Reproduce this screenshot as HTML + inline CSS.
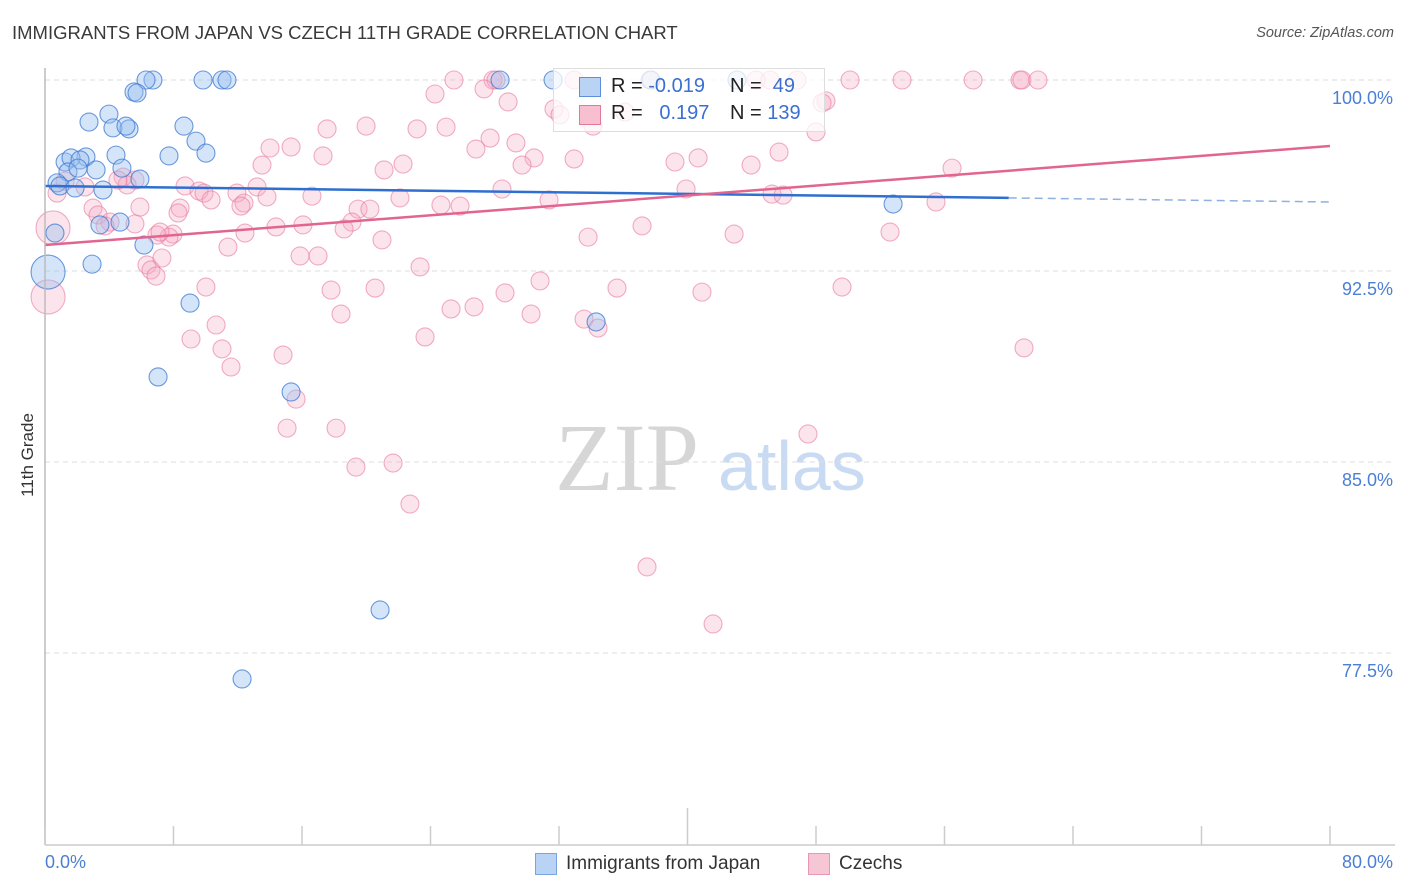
<!DOCTYPE html>
<html><head><meta charset="utf-8"><style>
body{margin:0;background:#fff;font-family:"Liberation Sans",sans-serif;}
#wrap{position:relative;width:1406px;height:892px;overflow:hidden;}
.t{position:absolute;white-space:nowrap;}
</style></head><body>
<div id="wrap">
<div class="t" style="left:12px;top:22px;font-size:18.5px;color:#3a3a3a;">IMMIGRANTS FROM JAPAN VS CZECH 11TH GRADE CORRELATION CHART</div>
<div class="t" style="right:12px;top:25px;font-size:14.5px;color:#555;font-style:italic;">Source: ZipAtlas.com</div>
<div class="t" style="left:28px;top:455px;font-size:17px;color:#333;transform:translate(-50%,-50%) rotate(-90deg);">11th Grade</div>
<svg id="svg" width="1406" height="892" style="position:absolute;left:0;top:0">
<text x="555" y="490" font-family="Liberation Serif,serif" font-size="96" fill="#d6d6d6">ZIP</text>
<text x="718" y="490" font-family="Liberation Sans,sans-serif" font-size="70" fill="#c9dbf3">atlas</text>
<g id="grid"></g><g id="pts"></g><g id="lines"></g><g id="axes"></g>
</svg>
<div style="position:absolute;left:553px;top:68px;width:270px;height:62px;border:1px solid #ddd;background:rgba(255,255,255,0.75);font-size:20px;color:#222;">
<div style="position:absolute;left:25px;top:8px;width:20px;height:18px;background:#b9d3f5;border:1px solid #5b8fdc;"></div>
<div class="t" style="left:57px;top:6px;">R = <span style="color:#3b6fd0">-0.019</span></div>
<div class="t" style="left:176px;top:6px;">N = &nbsp;<span style="color:#3b6fd0">49</span></div>
<div style="position:absolute;left:25px;top:36px;width:20px;height:18px;background:#f7bfd0;border:1px solid #e0799c;"></div>
<div class="t" style="left:57px;top:33px;">R = &nbsp;&nbsp;<span style="color:#3b6fd0">0.197</span></div>
<div class="t" style="left:176px;top:33px;">N = <span style="color:#3b6fd0">139</span></div>
</div>
<div class="t" style="left:45px;top:852px;font-size:18px;color:#4a7fd4;">0.0%</div>
<div class="t" style="right:13px;top:852px;font-size:18px;color:#4a7fd4;">80.0%</div>
<div style="position:absolute;left:535px;top:853px;width:20px;height:20px;background:#b9d3f5;border:1px solid #7aa4e0;"></div>
<div class="t" style="left:566px;top:853px;font-size:19px;color:#333;">Immigrants from Japan</div>
<div style="position:absolute;left:808px;top:853px;width:20px;height:20px;background:#f7c6d5;border:1px solid #e797b2;"></div>
<div class="t" style="left:839px;top:853px;font-size:19px;color:#333;">Czechs</div>
</div>
<script>
const yTicks=[100,92.5,85,77.5];
const yTickLabels=["100.0%","92.5%","85.0%","77.5%"];
const xTicks=[0,8,16,24,32,40,48,56,64,72,80];
const japanX=[6.72,6.29,9.84,11.02,11.33,28.33,31.63,37.73,43.08,5.54,5.73,3.98,2.74,4.23,5.23,5.04,8.65,9.40,10.02,7.72,4.42,2.55,1.25,1.62,2.18,4.79,3.18,1.43,2.05,5.91,0.75,0.93,1.87,3.61,3.42,4.67,0.62,6.16,2.93,0.19,9.03,7.04,15.32,20.86,12.27,34.31,52.80];
const japanY=[100,100,100,100,100,100,100,100,100,99.53,99.49,98.66,98.35,98.12,98.08,98.19,98.19,97.60,97.13,97.02,97.05,96.98,96.78,96.94,96.86,96.54,96.47,96.39,96.54,96.11,95.96,95.84,95.76,95.68,94.31,94.42,93.99,93.52,92.77,92.46,91.24,88.34,87.75,79.19,76.48,90.50,95.13];
const japanBig=[39];
const czechX=[25.46,27.89,28.08,32.94,37.67,44.27,45.14,46.82,50.12,53.36,57.78,60.70,60.82,61.82,48.62,48.38,28.83,24.28,27.33,31.69,32.06,34.12,36.11,48.00,17.56,19.99,23.16,24.97,27.71,29.32,26.83,14.01,15.32,17.31,30.45,29.70,32.94,22.29,21.11,13.51,39.22,40.66,43.96,45.70,56.47,8.72,9.59,9.90,10.34,11.95,13.20,13.82,12.39,12.20,16.62,28.45,39.91,45.26,45.95,22.10,31.38,25.84,24.65,19.49,20.23,19.11,18.62,14.38,16.06,12.45,7.97,7.72,8.41,8.28,5.91,5.60,4.86,5.11,4.54,0.75,1.25,2.49,2.99,3.30,4.05,3.74,5.60,6.97,7.16,37.17,42.90,52.61,55.47,33.81,20.98,11.39,6.35,6.60,6.91,7.28,15.88,17.00,23.35,30.82,17.81,20.55,28.64,35.61,40.90,49.62,10.02,26.71,25.28,30.26,33.56,34.43,18.43,10.65,9.09,23.66,11.02,14.82,11.58,15.63,15.07,18.12,19.36,21.67,47.50,22.72,37.48,41.59,60.95,0.19,0.50];
const czechY=[100,100,100,100,100,100,100,100,100,100,100,100,100,100,99.18,99.10,99.14,99.45,99.65,98.86,98.63,98.19,98.74,97.96,98.08,98.19,98.08,98.15,97.72,97.53,97.29,97.33,97.37,97.02,96.94,96.66,96.90,96.70,96.47,96.66,96.78,96.94,96.66,97.17,96.54,95.84,95.64,95.56,95.29,95.56,95.80,95.41,95.17,95.05,95.44,95.72,95.72,95.52,95.48,95.37,95.29,95.05,95.09,94.93,94.93,94.42,94.15,94.23,94.31,93.99,93.95,93.83,94.97,94.78,95.01,96.07,96.19,95.88,96.07,95.56,96.03,95.80,94.97,94.70,94.42,94.27,94.35,93.91,94.03,94.27,93.95,94.03,95.21,93.83,93.72,93.44,92.74,92.54,92.30,93.01,93.09,93.09,92.66,92.11,91.75,91.83,91.64,91.83,91.67,91.87,91.87,91.09,91.01,90.81,90.61,90.26,90.81,90.38,89.83,89.91,89.44,89.20,88.73,87.47,86.33,86.33,84.80,84.96,86.10,83.35,80.88,78.64,89.48,91.48,94.19];
const czechBig=[czechX.length-2,czechX.length-1];
const japanTrend=[[0,95.84],[60,95.37],[80,95.21]];
const czechTrend=[[0,93.52],[80,97.41]];
const NS='http://www.w3.org/2000/svg';
const X=v=>45+v/80*1285;
const Y=v=>80+(100-v)/7.5*191;
function mk(tag,attrs,parent){const e=document.createElementNS(NS,tag);for(const k in attrs)e.setAttribute(k,attrs[k]);parent.appendChild(e);return e;}
const grid=document.getElementById('grid'),pts=document.getElementById('pts'),lines=document.getElementById('lines'),axes=document.getElementById('axes');
yTicks.forEach((t,i)=>{
 const l=mk('line',{x1:45,x2:1395,y1:Y(t),y2:Y(t),stroke:'#ddd','stroke-dasharray':'5,4'},grid);
 
 
 const tx=mk('text',{x:1393,y:Y(t)+24,'text-anchor':'end','font-size':18,fill:'#4a7fd4','font-family':'Liberation Sans,sans-serif'},grid);
 tx.textContent=yTickLabels[i];
 
 
});
mk('line',{x1:45,x2:45,y1:68,y2:845,stroke:'#bbb','stroke-width':1.5},axes);
mk('line',{x1:45,x2:1395,y1:845,y2:845,stroke:'#ccc','stroke-width':1.5},axes);
xTicks.forEach((t,i)=>{
 const tk=mk('line',{x1:X(t),x2:X(t),y1:(t===40?808:826),y2:845,stroke:'#ccc','stroke-width':1.5},axes);
 
 
});
function drawPts(xs,ys,big,fill,stroke,name){
 xs.forEach((x,i)=>{
  const c=mk('circle',{cx:X(x),cy:Y(ys[i]),r:big.includes(i)?17:9,fill:fill,stroke:stroke,'stroke-width':1.1},pts);
  
  
 });
}
drawPts(czechX,czechY,czechBig,'rgba(246,170,195,0.32)','rgba(232,120,158,0.6)','czech-point');
drawPts(japanX,japanY,japanBig,'rgba(150,190,240,0.4)','rgba(60,120,210,0.75)','japan-point');
const jl=mk('line',{x1:X(japanTrend[0][0]),y1:Y(japanTrend[0][1]),x2:X(japanTrend[1][0]),y2:Y(japanTrend[1][1]),stroke:'#2f6fd0','stroke-width':2.5},lines);


const jd=mk('line',{x1:X(japanTrend[1][0]),y1:Y(japanTrend[1][1]),x2:X(japanTrend[2][0]),y2:Y(japanTrend[2][1]),stroke:'#8fb0e0','stroke-width':1.5,'stroke-dasharray':'8,5'},lines);


const cl=mk('line',{x1:X(czechTrend[0][0]),y1:Y(czechTrend[0][1]),x2:X(czechTrend[1][0]),y2:Y(czechTrend[1][1]),stroke:'#e2658f','stroke-width':2.5},lines);


</script>
</body></html>
